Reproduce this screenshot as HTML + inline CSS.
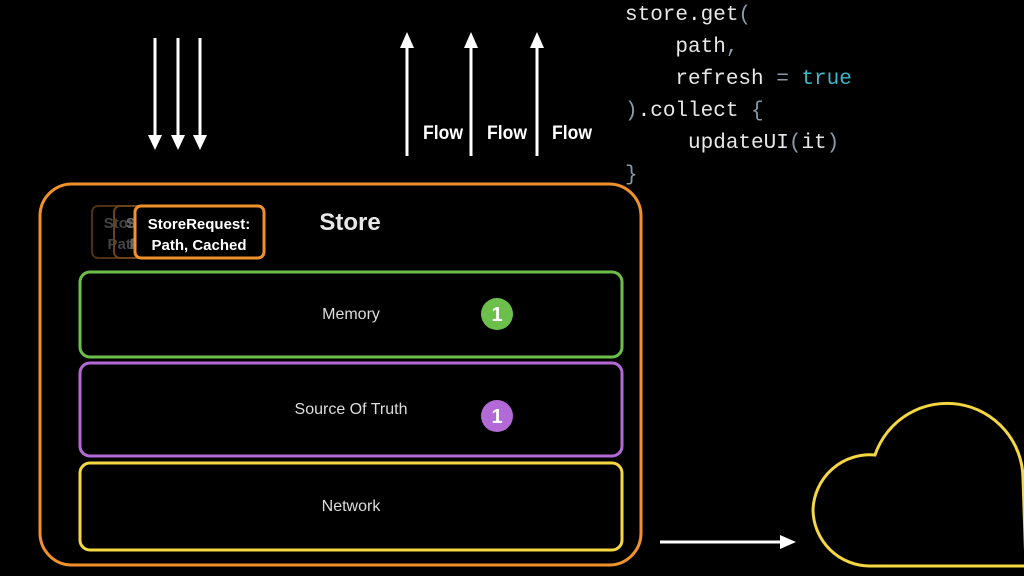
<!DOCTYPE html>
<html><head><style>
body{margin:0;background:#000;width:1024px;height:576px;overflow:hidden;position:relative;font-family:"Liberation Sans",sans-serif}
.code{position:absolute;left:625px;top:0;font-family:"Liberation Mono",monospace;font-size:21px;color:#e8e8e8;line-height:32px;white-space:pre}
.code .p{color:#8a9aa8}.code .t{color:#3fb6c8}
.lbl{position:absolute;color:#ddd;font-size:16px;transform:translateX(-50%)}
</style></head><body>
<div class="code" style="top:0px">store.get<span class="p">(</span>
    path<span class="p">,</span>
    refresh <span class="p">=</span> <span class="t">true</span>
<span class="p">)</span>.collect <span class="p">{</span>
     updateUI<span class="p">(</span>it<span class="p">)</span>
<span class="p">}</span></div>
<svg width="1024" height="576" style="position:absolute;left:0;top:0">
<g fill="#fff" stroke="#fff" stroke-width="3">
<line x1="155" y1="38" x2="155" y2="138"/><polygon points="148,135 162,135 155,150" stroke="none"/>
<line x1="178" y1="38" x2="178" y2="138"/><polygon points="171,135 185,135 178,150" stroke="none"/>
<line x1="200" y1="38" x2="200" y2="138"/><polygon points="193,135 207,135 200,150" stroke="none"/>
<line x1="407" y1="156" x2="407" y2="44"/><polygon points="400,48 414,48 407,32" stroke="none"/>
<line x1="471" y1="156" x2="471" y2="44"/><polygon points="464,48 478,48 471,32" stroke="none"/>
<line x1="537" y1="156" x2="537" y2="44"/><polygon points="530,48 544,48 537,32" stroke="none"/>
<line x1="660" y1="542" x2="782" y2="542"/><polygon points="780,535 780,549 796,542" stroke="none"/>
</g>
<g font-family="Liberation Sans" font-weight="bold" font-size="19" fill="#fff" text-anchor="middle">
<text x="443" y="139" textLength="40" lengthAdjust="spacingAndGlyphs">Flow</text>
<text x="507" y="139" textLength="40" lengthAdjust="spacingAndGlyphs">Flow</text>
<text x="572" y="139" textLength="40" lengthAdjust="spacingAndGlyphs">Flow</text>
</g>
<rect x="40" y="184" width="601" height="381" rx="32" fill="none" stroke="#f0922c" stroke-width="3"/>
<rect x="80" y="272" width="542" height="85" rx="10" fill="none" stroke="#6dbf4b" stroke-width="3"/>
<rect x="80" y="363" width="542" height="93" rx="10" fill="none" stroke="#b36ad6" stroke-width="3"/>
<rect x="80" y="463" width="542" height="87" rx="10" fill="none" stroke="#f5d742" stroke-width="3"/>
<circle cx="497" cy="314" r="16" fill="#6dbf4b"/><text x="497" y="321" font-size="20" font-weight="bold" fill="#fff" text-anchor="middle" font-family="Liberation Sans">1</text>
<circle cx="497" cy="416" r="16" fill="#b36ad6"/><text x="497" y="423" font-size="20" font-weight="bold" fill="#fff" text-anchor="middle" font-family="Liberation Sans">1</text>
<g font-family="Liberation Sans" font-weight="bold" font-size="15" text-anchor="middle">
<rect x="92" y="206" width="128" height="52" rx="6" fill="none" stroke="#4a3015" stroke-width="2"/>
<text x="155" y="228" fill="#444">StoreRequest:</text><text x="155" y="249" fill="#444">Path, Cached</text>
<rect x="114" y="206" width="128" height="52" rx="6" fill="none" stroke="#6b4318" stroke-width="2"/>
<text x="177" y="228" fill="#666">StoreRequest:</text><text x="177" y="249" fill="#666">Path, Cached</text>
<rect x="135" y="206" width="129" height="52" rx="6" fill="#000" stroke="#f0922c" stroke-width="3"/>
<text x="199" y="229" fill="#fff">StoreRequest:</text><text x="199" y="250" fill="#fff">Path, Cached</text>
</g>
<text x="350" y="230" font-family="Liberation Sans" font-weight="bold" font-size="24" fill="#e8e8e8" text-anchor="middle">Store</text>
<path d="M813,510 A57,57 0 0 1 875,455 A76,76 0 0 1 1023,479 L1026,566 L870,566 A57,57 0 0 1 813,510 Z" fill="none" stroke="#f5d742" stroke-width="3"/>
</svg>
<div class="lbl" style="left:351px;top:306px">Memory</div>
<div class="lbl" style="left:351px;top:401px">Source Of Truth</div>
<div class="lbl" style="left:351px;top:498px">Network</div>
</body></html>
